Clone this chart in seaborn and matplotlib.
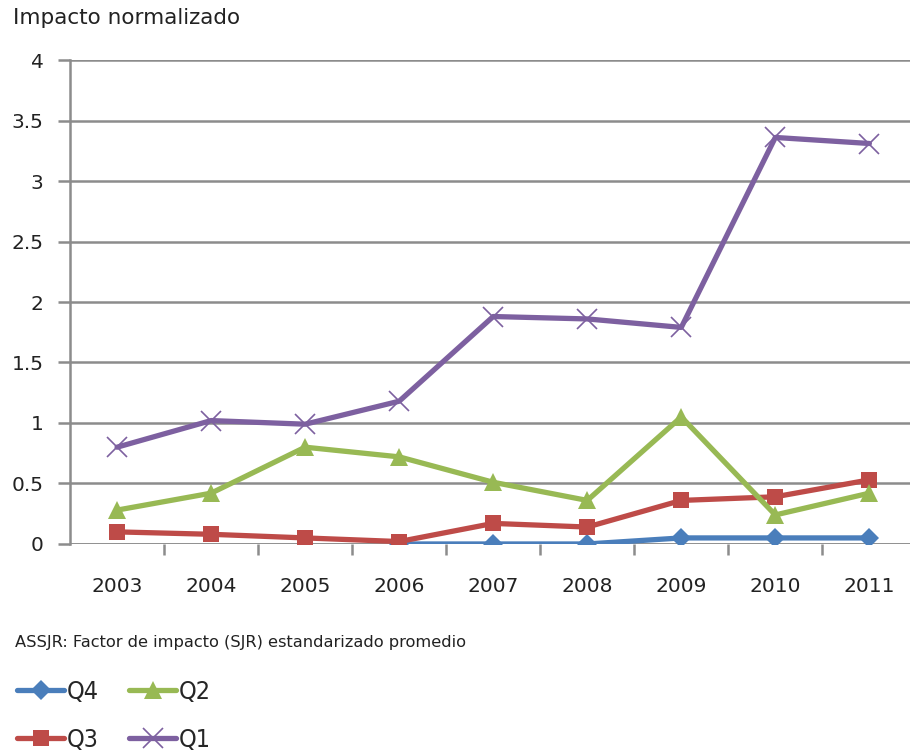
import matplotlib
matplotlib.use("Agg")
import matplotlib.pyplot as plt
import seaborn as sns
import numpy as np
import pandas as pd
from matplotlib.ticker import FixedLocator
from matplotlib import font_manager

years = ["2003", "2004", "2005", "2006", "2007", "2008", "2009", "2010", "2011"]
q4 = [np.nan, np.nan, np.nan, 0.0, 0.0, 0.0, 0.05, 0.05, 0.05]
q3 = [0.10, 0.08, 0.05, 0.02, 0.17, 0.14, 0.36, 0.39, 0.53]
q2 = [0.28, 0.42, 0.80, 0.72, 0.51, 0.36, 1.05, 0.24, 0.42]
q1 = [0.80, 1.02, 0.99, 1.18, 1.88, 1.86, 1.79, 3.36, 3.31]
y_ticks = [0, 0.5, 1, 1.5, 2, 2.5, 3, 3.5, 4]
y_tick_labels = ["0", "0.5", "1", "1.5", "2", "2.5", "3", "3.5", "4"]

sns.set_theme(style="white")
plt.rcParams['font.family'] = ['DejaVu Sans']

names = {f.name for f in font_manager.fontManager.ttflist}
narrow = "Liberation Sans Narrow" if "Liberation Sans Narrow" in names else "DejaVu Sans"

fig = plt.figure(figsize=(9.1, 7.55), dpi=100)
ax = fig.add_axes([0.077, 0.2795, 0.93, 0.641])

series = [
    ("Q4", q4, "#4A7EBB", "D", 10),
    ("Q3", q3, "#BE4B48", "s", 12),
    ("Q2", q2, "#98B954", "^", 13),
    ("Q1", q1, "#7D60A0", "x", 15),
]
for name, vals, col, mk, ms in series:
    df = pd.DataFrame({"year": years, "value": vals})
    sns.lineplot(data=df, x="year", y="value", ax=ax, color=col, linewidth=3.8,
                 marker=mk, markersize=ms, markeredgecolor=col,
                 markeredgewidth=1.2 if mk == "x" else 0,
                 estimator=None, sort=False, label=name)

ax.set_xlim(-0.5, len(years) - 0.5)
ax.set_ylim(0, 4)
ax.set_yticks(y_ticks)
ax.set_yticklabels(y_tick_labels)
ax.yaxis.grid(True, color="#8c8c8c", linewidth=1.8)
ax.set_axisbelow(True)
for s in ["top", "right", "bottom"]:
    ax.spines[s].set_visible(False)
ax.spines["left"].set_color("#8c8c8c")
ax.spines["left"].set_linewidth(1.8)
ax.axhline(0, color="#8c8c8c", linewidth=1.8, zorder=0.5)

ax.tick_params(axis="y", which="major", left=True, length=9, width=1.8, color="#8c8c8c",
               pad=10, labelsize=14.5, labelcolor="#222222")
ax.tick_params(axis="x", which="major", bottom=False, pad=18, labelsize=14.5, labelcolor="#222222")
ax.xaxis.set_minor_locator(FixedLocator(np.arange(0.5, len(years) - 0.5, 1)))
ax.tick_params(axis="x", which="minor", bottom=True, length=8, width=1.8, color="#8c8c8c")
ax.set_xlabel("")
ax.set_ylabel("")

h, l = ax.get_legend_handles_labels()
ax.get_legend().remove()
order = ["Q4", "Q3", "Q2", "Q1"]
hd = dict(zip(l, h))
fig.legend([hd[k] for k in order], order, loc="lower left", bbox_to_anchor=(0.013, -0.002),
           borderaxespad=0, borderpad=0.2,
           ncol=2, frameon=False, handlelength=1.9, handletextpad=0.1, columnspacing=1.2,
           labelspacing=0.95, prop={"family": narrow, "size": 18, "stretch": "condensed"})

fig.text(0.014, 0.976, "Impacto normalizado", fontsize=15.5, color="#222222", va="center")
fig.text(0.016, 0.149, "ASSJR: Factor de impacto (SJR) estandarizado promedio", fontsize=11.7,
         color="#222222", va="center")

fig.savefig("out.png", dpi=100)
